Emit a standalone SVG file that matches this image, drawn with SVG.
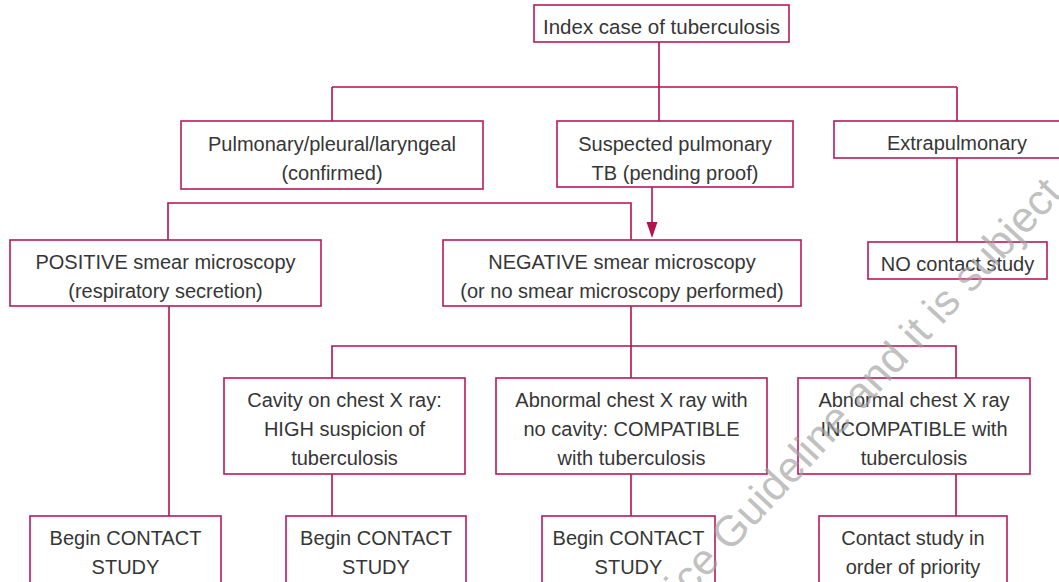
<svg xmlns="http://www.w3.org/2000/svg" width="1059" height="582" viewBox="0 0 1059 582">
<style>
.box{fill:#fff;stroke:#b8195a;stroke-width:1.6}
.t{font-family:"Liberation Sans",Arial,sans-serif;font-size:20px;fill:#363636;text-anchor:middle}
.c{fill:none;stroke:#b3124f;stroke-width:1.6}
.wm{font-family:"Liberation Sans",Arial,sans-serif;font-size:43px;fill:#a0a0a0;opacity:0.65}
</style>
<rect width="1059" height="582" fill="#fff"/>
<g id="connectors">
<path class="c" d="M659,42 V87 M332,87 H957 M332,87 V121 M659,87 V121 M957,87 V121 M957,158 V242"/>
<path class="c" d="M168,240 V203 H631 V240"/>
<path class="c" d="M631,306 V378 M332,378 V346 H956 V378"/>
<path class="c" d="M169,306 V516 M332,474 V516 M631,474 V516 M956,474 V516"/>
<path class="c" d="M652,187 V224"/>
<polygon points="646.5,222 657.5,222 652,238" fill="#b3124f"/>
</g>
<g id="n-index"><rect class="box" x="534" y="5" width="255" height="37"/><text class="t" x="661.5" y="34" style="font-size:20.5px">Index case of tuberculosis</text></g>
<g id="n-pulm"><rect class="box" x="181" y="121" width="302" height="68"/><text class="t" x="332" y="151">Pulmonary/pleural/laryngeal</text><text class="t" x="332" y="180">(confirmed)</text></g>
<g id="n-susp"><rect class="box" x="557" y="121" width="236" height="66"/><text class="t" x="675" y="151">Suspected pulmonary</text><text class="t" x="675" y="180">TB (pending proof)</text></g>
<g id="n-extra"><rect class="box" x="834" y="121" width="246" height="37"/><text class="t" x="957" y="150">Extrapulmonary</text></g>
<g id="n-pos"><rect class="box" x="10" y="240" width="311" height="66"/><text class="t" x="165.5" y="269">POSITIVE smear microscopy</text><text class="t" x="165.5" y="298">(respiratory secretion)</text></g>
<g id="n-neg"><rect class="box" x="443" y="240" width="358" height="66"/><text class="t" x="622" y="269">NEGATIVE smear microscopy</text><text class="t" x="622" y="298">(or no smear microscopy performed)</text></g>
<g id="n-nocontact"><rect class="box" x="868" y="242" width="179" height="37"/><text class="t" x="957.5" y="271">NO contact study</text></g>
<g id="n-cavity"><rect class="box" x="224" y="378" width="241" height="96"/><text class="t" x="344.5" y="407">Cavity on chest X ray:</text><text class="t" x="344.5" y="436">HIGH suspicion of</text><text class="t" x="344.5" y="465">tuberculosis</text></g>
<g id="n-compat"><rect class="box" x="496" y="378" width="271" height="96"/><text class="t" x="631.5" y="407">Abnormal chest X ray with</text><text class="t" x="631.5" y="436">no cavity: COMPATIBLE</text><text class="t" x="631.5" y="465">with tuberculosis</text></g>
<g id="n-incompat"><rect class="box" x="798" y="378" width="232" height="96"/><text class="t" x="914" y="407">Abnormal chest X ray</text><text class="t" x="914" y="436">INCOMPATIBLE with</text><text class="t" x="914" y="465">tuberculosis</text></g>
<g id="n-begin1"><rect class="box" x="30" y="516" width="191" height="80"/><text class="t" x="125.5" y="545">Begin CONTACT</text><text class="t" x="125.5" y="574">STUDY</text></g>
<g id="n-begin2"><rect class="box" x="286" y="516" width="180" height="80"/><text class="t" x="376" y="545">Begin CONTACT</text><text class="t" x="376" y="574">STUDY</text></g>
<g id="n-begin3"><rect class="box" x="542" y="516" width="173" height="80"/><text class="t" x="628.5" y="545">Begin CONTACT</text><text class="t" x="628.5" y="574">STUDY</text></g>
<g id="n-priority"><rect class="box" x="819" y="516" width="188" height="80"/><text class="t" x="913" y="545">Contact study in</text><text class="t" x="913" y="574">order of priority</text></g>
<text class="wm" transform="translate(684,602) rotate(-47)">ice Guideline and it is subject</text>
</svg>
